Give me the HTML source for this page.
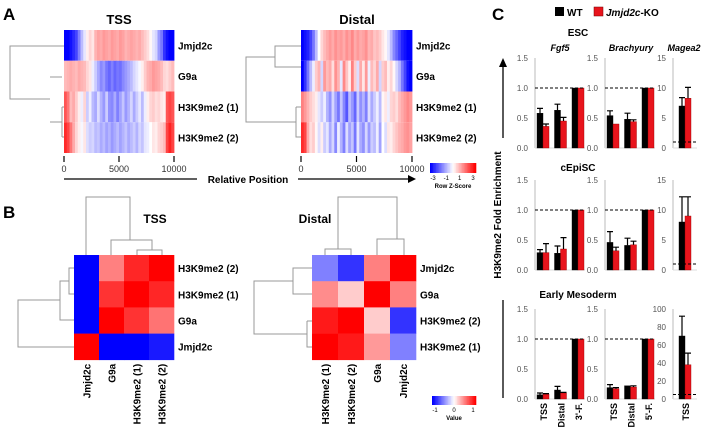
<!DOCTYPE html>
<html><head><meta charset="utf-8"><style>
body{margin:0;background:#fff;}
svg text{font-family:"Liberation Sans",Arial,sans-serif;}
</style></head><body>
<svg id="fig" width="705" height="431" viewBox="0 0 705 431" xmlns="http://www.w3.org/2000/svg">
<g font-weight="bold" fill="#000">
<text x="3" y="20" font-size="17">A</text>
<text x="3" y="218" font-size="17">B</text>
<text x="492" y="20" font-size="17">C</text>
<text x="119" y="24" font-size="13" text-anchor="middle">TSS</text>
<text x="357" y="24" font-size="13" text-anchor="middle">Distal</text>
<text x="248" y="183" font-size="10" text-anchor="middle">Relative Position</text>
<text x="155" y="223" font-size="12" text-anchor="middle">TSS</text>
<text x="315" y="223" font-size="12" text-anchor="middle">Distal</text>
</g>
<line x1="64" y1="179" x2="197" y2="179" stroke="#000" stroke-width="1.3"/>
<line x1="298" y1="179" x2="410" y2="179" stroke="#000" stroke-width="1.3"/>
<polygon points="408,175 416,179 408,183" fill="#000"/>
<g id="root"></g>
</svg>
<script>
const NS="http://www.w3.org/2000/svg";
const root=document.getElementById('root');
function el(tag,attrs,parent){const e=document.createElementNS(NS,tag);for(const k in attrs)e.setAttribute(k,attrs[k]);(parent||root).appendChild(e);return e;}
function txt(x,y,s,size,opts,parent){const t=el('text',Object.assign({x:x,y:y,'font-size':size},opts||{}),parent);t.textContent=s;return t;}

// ---------- Panel A data ----------
const aRows=["Jmjd2c","G9a","H3K9me2 (1)","H3K9me2 (2)"];
const tssJmjd2c=[-3,-3,-2.8,-2.5,-2.2,-1.5,-0.8,-0.3,0.2,0.5,0.3,0.9,1.1,1.0,1.2,1.1,1.0,1.2,1.1,1.0,1.2,1.1,0.9,1.0,1.1,1.0,0.9,1.0,0.8,0.6,0.4,0.1,-0.3,-0.5,-1.2,-1.6,-2.4,-2.8,-3,-3];
const tssG9a=[0.8,0.9,1,0.9,0.8,1,0.9,0.8,0.5,0.3,-0.2,-0.6,-1.0,-1.4,-1.2,-1.6,-1.8,-1.5,-1.8,-1.6,-1.7,-1.4,-1.2,-1.0,-0.8,-0.5,-0.3,-0.1,0.2,0.6,0.9,1.0,1.2,1.1,1.0,0.8,0.5,0.4,0.6,0.8];
const tssH1=[2,1.6,0.8,1.0,0.6,0.2,-0.2,0.5,-0.6,-0.2,-0.8,-1.0,-0.4,-0.9,-1.2,-0.6,-1.3,-1.4,-1.0,-1.5,-1.1,-0.7,-1.2,-0.9,-0.5,-1.0,-0.6,-0.3,-0.8,-0.2,0.2,0.5,0.6,0.4,0.5,0.3,0.2,2,2.2,2];
const tssH2=[2.5,2.2,1.6,1.0,0.5,0.2,-0.1,0.3,-0.4,-0.6,-0.5,-0.8,-0.7,-1.0,-0.8,-1.1,-0.9,-1.2,-1,-0.8,-1.1,-0.9,-0.7,-1,-0.8,-0.6,-0.9,-0.5,-0.7,-0.3,-0.2,0,0.3,0.2,0.5,0.6,0.8,2.2,2.6,2.2];
const disJmjd2c=[-3,-2.8,-2.6,-2.2,-1.6,-0.8,0,0.5,0.8,1,1.2,1.0,1.3,1.1,1.2,1.0,1.3,1.1,1.4,1.0,1.2,1.0,1.1,1.3,0.9,1.0,0.7,0.8,0.6,0.3,0.1,-0.3,-0.8,-1.4,-1.8,-2.2,-2.6,-2.8,-3,-3];
const disG9a=[-3,-2.4,-1.6,-0.8,-0.2,0.6,0.9,-0.5,1.2,0.8,1.0,0.4,1.3,0.9,-0.3,1.4,0.7,0.2,1.5,0.6,-0.4,1.0,0.3,1.2,-0.2,0.8,0.5,1.0,-0.5,0.6,0.8,0.2,0.5,0.1,-0.5,-0.9,-1.6,-2.2,-2.8,-3];
const disH1=[1.5,1.2,0.9,0.6,0.4,0.2,-0.3,-0.6,-0.2,-0.9,-1.3,-0.5,-1.1,-1.6,-0.7,-1.4,-2.0,-0.8,-1.2,-1.8,-0.6,-1.3,-0.9,-1.5,-0.4,-1.0,-0.6,-0.2,-0.8,0.1,0.3,-0.2,0.5,0.6,0.4,0.8,1.0,1.2,1.4,1.2];
const disH2=[2.5,2.2,1.0,0.4,0.6,0.1,-0.4,0.2,-0.6,-0.3,-1.0,-0.5,-1.4,-0.2,-0.9,-1.5,-0.4,-1.1,-0.7,-1.6,-0.3,-1.0,-1.3,-0.5,-1.2,-0.6,-0.8,-0.2,-1.1,0.0,-0.4,0.3,0.2,0.5,0.7,0.9,1.0,1.2,1.3,1.1];
const posTicks=[0,5000,10000];

// ---------- Panel B data ----------
const bTssRows=["H3K9me2 (2)","H3K9me2 (1)","G9a","Jmjd2c"];
const bTssCols=["Jmjd2c","G9a","H3K9me2 (1)","H3K9me2 (2)"];
const bTssVals=[[-1,0.5,0.85,1],[-1,0.8,1,0.85],[-1,1,0.8,0.55],[1,-1,-1,-0.9]];
const bDisRows=["Jmjd2c","G9a","H3K9me2 (2)","H3K9me2 (1)"];
const bDisCols=["H3K9me2 (1)","H3K9me2 (2)","G9a","Jmjd2c"];
const bDisVals=[[-0.5,-0.8,0.5,1],[0.45,0.2,1,0.5],[0.9,1,0.2,-0.8],[1,0.9,0.4,-0.5]];

// ---------- Panel C data ----------
const sites3=["TSS","Distal","3'-F."];
const sites5=["TSS","Distal","5'-F."];
const escFgf5WT=[0.58,0.63,1.0], escFgf5KO=[0.36,0.45,1.0], escFgf5WTe=[0.08,0.1,0], escFgf5KOe=[0.04,0.06,0];
const escBraWT=[0.54,0.48,1.0], escBraKO=[0.4,0.44,1.0], escBraWTe=[0.08,0.1,0], escBraKOe=[0,0.03,0];
const escMagWT=[7], escMagKO=[8.3], escMagWTe=[1.4], escMagKOe=[1.8];
const epiFgf5WT=[0.29,0.28,1.0], epiFgf5KO=[0.29,0.35,1.0], epiFgf5WTe=[0.05,0.12,0], epiFgf5KOe=[0.15,0.19,0];
const epiBraWT=[0.46,0.41,1.0], epiBraKO=[0.32,0.42,1.0], epiBraWTe=[0.18,0.12,0], epiBraKOe=[0.06,0.06,0];
const epiMagWT=[8], epiMagKO=[9], epiMagWTe=[4.2], epiMagKOe=[3.2];
const mesFgf5WT=[0.07,0.15,1.0], mesFgf5KO=[0.08,0.1,1.0], mesFgf5WTe=[0.03,0.06,0], mesFgf5KOe=[0.01,0.01,0];
const mesBraWT=[0.19,0.22,1.0], mesBraKO=[0.17,0.2,1.0], mesBraWTe=[0.05,0,0], mesBraKOe=[0.02,0.02,0];
const mesMagWT=[70], mesMagKO=[38], mesMagWTe=[22], mesMagKOe=[13];
const ticksSmall=[0,0.5,1.0,1.5], ticksMag=[0,5,10,15], ticksMag100=[0,20,40,60,80,100];

function zcol(v,max){let t=Math.max(-1,Math.min(1,v/max));
  if(t>=0){const c=Math.round(255*(1-t));return `rgb(255,${c},${c})`;}
  const c=Math.round(255*(1+t));return `rgb(${c},${c},255)`;}

// Panel A heatmaps
function stripeHeat(x0,y0,w,h,rows,name){
  const g=el('g',{});
  
  
  const rh=h/rows.length;
  rows.forEach((r,i)=>{const cw=w/r.length;r.forEach((v,j)=>{
    const c=el('rect',{x:(x0+j*cw).toFixed(2),y:(y0+i*rh).toFixed(2),width:(cw+0.4).toFixed(2),height:rh.toFixed(2),fill:zcol(v,3)},g);
    
    
  });});
  aRows.forEach((n,i)=>{const t=txt(x0+w+4,y0+i*rh+rh/2+4,n,10,{'font-weight':'bold'},g);
    
    });
  posTicks.forEach(p=>{const x=x0+p/10000*w;
    el('line',{x1:x,y1:y0+h+3,x2:x,y2:y0+h+9,stroke:'#000','stroke-width':1.2},g);
    const t=txt(x,y0+h+19,String(p),9,{'text-anchor':'middle',fill:'#333'},g);
    
    });
}
stripeHeat(64,30,110,123,[tssJmjd2c,tssG9a,tssH1,tssH2],'a-tss-heatmap');
stripeHeat(301,30,111,123,[disJmjd2c,disG9a,disH1,disH2],'a-distal-heatmap');

function path(d,name){const p=el('path',{d:d,stroke:'#999',fill:'none','stroke-width':1});
  
  }
path('M64 46H10V99H50 M50 77H62 M50 122H62 M62 107H64 M62 107V137 M62 137H64','a-tss-dendrogram');
path('M301 46H275V67H301 M275 57H246V122H296 M296 107H301 M296 107V137H301','a-distal-dendrogram');

// Colour bars
function cbar(x,y,w,h,labels,title,name){
  const g=el('g',{});
  
  
  for(let i=0;i<30;i++){el('rect',{x:x+i*w/30,y:y,width:w/30+0.3,height:h,fill:zcol(-1+2*i/29,1)},g);}
  labels.forEach((l,i)=>{txt(x+3+i*(w-6)/(labels.length-1),y+h+7,l,6,{'text-anchor':'middle'},g);});
  txt(x+w/2,y+h+15,title,6,{'text-anchor':'middle','font-weight':'bold'},g);
}
cbar(430,163,46,10,["-3","-1","1","3"],"Row Z-Score",'a-colorbar');
cbar(432,396,44,9,["-1","0","1"],"Value",'b-colorbar');

// Panel B heatmaps
function matHeat(x0,y0,cw,ch,vals,rows,cols,name){
  const g=el('g',{});
  
  
  vals.forEach((r,i)=>r.forEach((v,j)=>{
    const c=el('rect',{x:x0+j*cw,y:y0+i*ch,width:cw+0.3,height:ch+0.3,fill:zcol(v,1)},g);
    
    
  }));
  rows.forEach((n,i)=>{const t=txt(x0+4*cw+4,y0+i*ch+ch/2+4,n,10,{'font-weight':'bold'},g);
    
    });
  cols.forEach((n,j)=>{const cx=x0+j*cw+cw/2+4,cy=y0+4*ch+4;
    const t=txt(cx,cy,n,10,{'font-weight':'bold','text-anchor':'end',transform:`rotate(-90 ${cx} ${cy})`},g);
    
    });
}
matHeat(74,255,25,26.2,bTssVals,bTssRows,bTssCols,'b-tss-heatmap');
matHeat(312,255,26,26.2,bDisVals,bDisRows,bDisCols,'b-distal-heatmap');
path('M86 255V197H130V240 M111 255V240H152V250 M137 255V250H162V255','b-tss-col-dendrogram');
path('M74 268H69V294H74 M69 281H60V320H74 M60 300H18V347H74','b-tss-row-dendrogram');
path('M325 255V249H351V255 M338 249V197H397V239 M377 255V239H404V255','b-distal-col-dendrogram');
path('M312 268H293V294H312 M293 281H254V334H307 M307 321H312 M307 321V347H312','b-distal-row-dendrogram');

// Panel C
const cg=el('g',{});


el('rect',{x:555,y:7,width:9,height:9,fill:'#000'},cg);
txt(567,16,'WT',10,{'font-weight':'bold'},cg);
el('rect',{x:594,y:7,width:9,height:9,fill:'#e8141c',stroke:'#700','stroke-width':0.5},cg);
const kt=txt(606,16,'',10,{'font-weight':'bold'},cg);

kt.innerHTML='<tspan font-style="italic">Jmjd2c</tspan>-KO';
[['ESC',578,36],['cEpiSC',578,171],['Early Mesoderm',578,298]].forEach(a=>{const t=txt(a[1],a[2],a[0],10,{'font-weight':'bold','text-anchor':'middle'},cg);
  
  });
[['Fgf5',560],['Brachyury',631],['Magea2',684]].forEach(a=>{const t=txt(a[1],51,a[0],9,{'font-weight':'bold','font-style':'italic','text-anchor':'middle'},cg);
  
  });
const yl=txt(501,215,'H3K9me2 Fold Enrichment',10,{'font-weight':'bold','text-anchor':'middle',transform:'rotate(-90 501 215)'},cg);


el('line',{x1:503,y1:138,x2:503,y2:66,stroke:'#000','stroke-width':1.3},cg);
el('polygon',{points:'499,67 503,58 507,67',fill:'#000'},cg);
el('line',{x1:503,y1:300,x2:503,y2:398,stroke:'#000','stroke-width':1.3},cg);

function barChart(ax,y0,maxV,ticks,wt,ko,wte,koe,dashV,dashEnd,labels,firstOff,name){
  const g=el('g',{},cg);
  
  
  const H=90, y=v=>y0-v/maxV*H;
  el('line',{x1:ax,y1:y0,x2:ax,y2:y0-H,stroke:'#bbb','stroke-width':1},g);
  el('line',{x1:ax,y1:y0,x2:dashEnd,y2:y0,stroke:'#ddd','stroke-width':1},g);
  ticks.forEach(t=>{const l=txt(ax-7,y(t)+3,maxV<2?t.toFixed(1):String(t),8,{'text-anchor':'end',fill:'#555'},g);
    
    });
  const bw=6,pitch=17.5;
  wt.forEach((v,i)=>{const bx=ax+firstOff+i*pitch;
    [[v,wte[i],'#000',bx,'bar-wt'],[ko[i],koe[i],'#e8141c',bx+bw,'bar-ko']].forEach(b=>{
      const r=el('rect',{x:b[3],y:y(b[0]),width:bw,height:y0-y(b[0]),fill:b[2],stroke:b[2]==='#000'?'#000':'#900','stroke-width':0.4},g);
      
      
      if(b[1]>0){const cx=b[3]+bw/2;el('path',{d:`M${cx} ${y(b[0])}V${y(b[0]+b[1])} M${cx-3} ${y(b[0]+b[1])}H${cx+3}`,stroke:'#000','stroke-width':1.2,fill:'none'},g);}
    });
    if(labels){const lx=bx+bw+4,ly=y0+4;const t=txt(lx,ly,labels[i],9,{'font-weight':'bold','text-anchor':'end',transform:`rotate(-90 ${lx} ${ly})`},g);
      
      }
  });
  el('line',{x1:ax,y1:y(dashV),x2:dashEnd,y2:y(dashV),stroke:'#000','stroke-width':1,'stroke-dasharray':'3,2'},g);
}
const rowsY=[148,270,399];
barChart(535,rowsY[0],1.5,ticksSmall,escFgf5WT,escFgf5KO,escFgf5WTe,escFgf5KOe,1,585,null,2,'esc-fgf5-chart');
barChart(605,rowsY[0],1.5,ticksSmall,escBraWT,escBraKO,escBraWTe,escBraKOe,1,655,null,2,'esc-brachyury-chart');
barChart(673,rowsY[0],15,ticksMag,escMagWT,escMagKO,escMagWTe,escMagKOe,1,697,null,6,'esc-magea2-chart');
barChart(535,rowsY[1],1.5,ticksSmall,epiFgf5WT,epiFgf5KO,epiFgf5WTe,epiFgf5KOe,1,585,null,2,'episc-fgf5-chart');
barChart(605,rowsY[1],1.5,ticksSmall,epiBraWT,epiBraKO,epiBraWTe,epiBraKOe,1,655,null,2,'episc-brachyury-chart');
barChart(673,rowsY[1],15,ticksMag,epiMagWT,epiMagKO,epiMagWTe,epiMagKOe,1,697,null,6,'episc-magea2-chart');
barChart(535,rowsY[2],1.5,ticksSmall,mesFgf5WT,mesFgf5KO,mesFgf5WTe,mesFgf5KOe,1,585,sites3,2,'mes-fgf5-chart');
barChart(605,rowsY[2],1.5,ticksSmall,mesBraWT,mesBraKO,mesBraWTe,mesBraKOe,1,655,sites5,2,'mes-brachyury-chart');
barChart(673,rowsY[2],100,ticksMag100,mesMagWT,mesMagKO,mesMagWTe,mesMagKOe,5,697,["TSS"],6,'mes-magea2-chart');
</script>
</body></html>
